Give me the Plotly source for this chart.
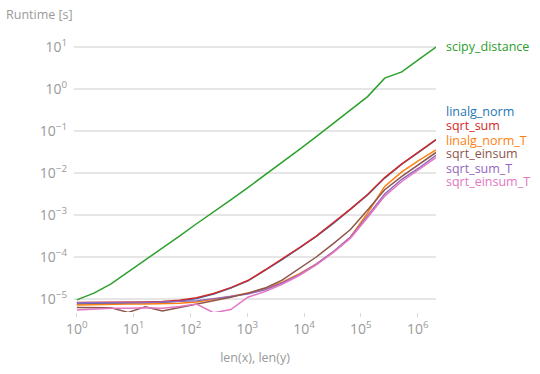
import numpy as np
import plotly.graph_objects as go

# problem sizes: 2^0 ... 2^21
n = [2 ** k for k in range(22)]

names = ["linalg_norm", "linalg_norm_T", "scipy_distance", "sqrt_sum",
         "sqrt_sum_T", "sqrt_einsum", "sqrt_einsum_T"]
colors = ["#1f77b4", "#ff7f0e", "#2ca02c", "#d62728",
          "#9467bd", "#8c564b", "#e377c2"]

linalg_norm = [7.6e-6, 7.8e-6, 7.9e-6, 7.9e-6, 8.1e-6, 8.3e-6, 8.9e-6, 1.02e-5,
               1.32e-5, 1.82e-5, 2.69e-5, 4.79e-5, 8.7e-5, 1.62e-4, 3.09e-4,
               6.3e-4, 1.35e-3, 3.02e-3, 7.6e-3, 1.62e-2, 3.16e-2, 6.2e-2]
sqrt_sum = [8.3e-6, 8.3e-6, 8.3e-6, 8.3e-6, 8.5e-6, 8.7e-6, 9.3e-6, 1.07e-5,
            1.35e-5, 1.86e-5, 2.75e-5, 4.9e-5, 8.9e-5, 1.66e-4, 3.16e-4,
            6.5e-4, 1.38e-3, 3.09e-3, 7.8e-3, 1.66e-2, 3.24e-2, 6.3e-2]
linalg_norm_T = [7.2e-6, 7.4e-6, 7.4e-6, 7.6e-6, 7.6e-6, 7.8e-6, 7.9e-6, 8.5e-6,
                 9.8e-6, 1.15e-5, 1.38e-5, 1.78e-5, 2.51e-5, 3.98e-5, 6.8e-5,
                 1.32e-4, 3.0e-4, 1.12e-3, 4.8e-3, 1.07e-2, 2.0e-2, 3.55e-2]
sqrt_einsum = [6.3e-6, 6.3e-6, 6.2e-6, 4.8e-6, 6.5e-6, 5.2e-6, 6.3e-6, 7.4e-6,
               8.9e-6, 1.10e-5, 1.38e-5, 1.82e-5, 2.82e-5, 5.2e-5, 1.0e-4,
               2.09e-4, 4.5e-4, 1.32e-3, 4.0e-3, 8.3e-3, 1.58e-2, 3.09e-2]
sqrt_sum_T = [8.1e-6, 8.1e-6, 8.3e-6, 8.3e-6, 8.3e-6, 8.5e-6, 8.7e-6, 9.1e-6,
              1.02e-5, 1.15e-5, 1.32e-5, 1.66e-5, 2.4e-5, 3.8e-5, 6.8e-5,
              1.35e-4, 3.0e-4, 9.5e-4, 3.16e-3, 7.1e-3, 1.32e-2, 2.63e-2]
sqrt_einsum_T = [5.5e-6, 5.8e-6, 6.0e-6, 6.0e-6, 6.2e-6, 6.0e-6, 6.6e-6, 7.6e-6,
                 4.7e-6, 5.6e-6, 1.10e-5, 1.51e-5, 2.24e-5, 3.63e-5, 6.5e-5,
                 1.29e-4, 2.82e-4, 8.7e-4, 2.82e-3, 6.3e-3, 1.20e-2, 2.34e-2]
scipy_distance = [9.5e-6, 1.38e-5, 2.29e-5, 4.4e-5, 8.3e-5, 1.66e-4, 3.16e-4,
                  6.2e-4, 1.17e-3, 2.29e-3, 4.5e-3, 8.9e-3, 1.78e-2, 3.63e-2,
                  7.4e-2, 0.151, 0.316, 0.661, 1.82, 2.57, 5.1, 10.0]

series = [linalg_norm, linalg_norm_T, scipy_distance, sqrt_sum,
          sqrt_sum_T, sqrt_einsum, sqrt_einsum_T]

# tick positions / labels
x_tickvals = [1, 10, 100, 1e3, 1e4, 1e5, 1e6]
x_ticktext = ["10<sup>0</sup>", "10<sup>1</sup>", "10<sup>2</sup>",
              "10<sup>3</sup>", "10<sup>4</sup>", "10<sup>5</sup>",
              "10<sup>6</sup>"]
y_tickvals = [1e-5, 1e-4, 1e-3, 1e-2, 1e-1, 1, 10]
y_ticktext = ["10<sup>\u22125</sup>", "10<sup>\u22124</sup>",
              "10<sup>\u22123</sup>", "10<sup>\u22122</sup>",
              "10<sup>\u22121</sup>", "10<sup>0</sup>", "10<sup>1</sup>"]

# vertical positions (seconds) where the end-of-line labels are written
label_pos = {
    "scipy_distance": 10.5,
    "linalg_norm": 0.286,
    "sqrt_sum": 0.133,
    "linalg_norm_T": 0.059,
    "sqrt_einsum": 0.0288,
    "sqrt_sum_T": 0.0129,
    "sqrt_einsum_T": 0.0063,
}

FONT = "Open Sans"
GRAY = "#9a9a9a"

fig = go.Figure()
for name, col, vals in zip(names, colors, series):
    fig.add_trace(go.Scatter(x=n, y=vals, mode="lines", name=name,
                             line=dict(color=col, width=1.5),
                             showlegend=False))

annotations = []
for name, col in zip(names, colors):
    annotations.append(dict(
        x=1, xref="paper", xanchor="left", xshift=8,
        y=float(np.log10(label_pos[name])), yref="y", yanchor="middle",
        text=name, showarrow=False,
        font=dict(family=FONT, size=12.5, color=col)))
annotations.append(dict(
    x=0, xref="paper", xshift=-70, xanchor="left",
    y=1, yref="paper", yshift=31, yanchor="middle",
    text="Runtime [s]", showarrow=False,
    font=dict(family=FONT, size=12.5, color=GRAY)))

fig.update_layout(
    width=540, height=374,
    margin=dict(l=74, r=104, t=45, b=62),
    paper_bgcolor="white", plot_bgcolor="white",
    font=dict(family=FONT, size=13, color=GRAY),
    annotations=annotations,
    xaxis=dict(type="log", range=[-0.05, np.log10(2 ** 21)],
               tickvals=x_tickvals, ticktext=x_ticktext, showgrid=False,
               zeroline=False, showline=False,
               ticks="outside", ticklen=4, tickcolor="#d8d8d8",
               tickfont=dict(family=FONT, size=14, color=GRAY),
               title=dict(text="len(x), len(y)", standoff=16,
                          font=dict(family=FONT, size=12.5, color=GRAY))),
    yaxis=dict(type="log", range=[-5.31, 1.05],
               tickvals=y_tickvals, ticktext=y_ticktext, showgrid=True,
               gridcolor="#e6e6e6", gridwidth=1.5,
               zeroline=False, showline=False, ticks="",
               ticklabelstandoff=6,
               tickfont=dict(family=FONT, size=14, color=GRAY)),
)

fig.write_html("out.html", config={"displayModeBar": False},
               post_script="document.body.style.margin='0';")
